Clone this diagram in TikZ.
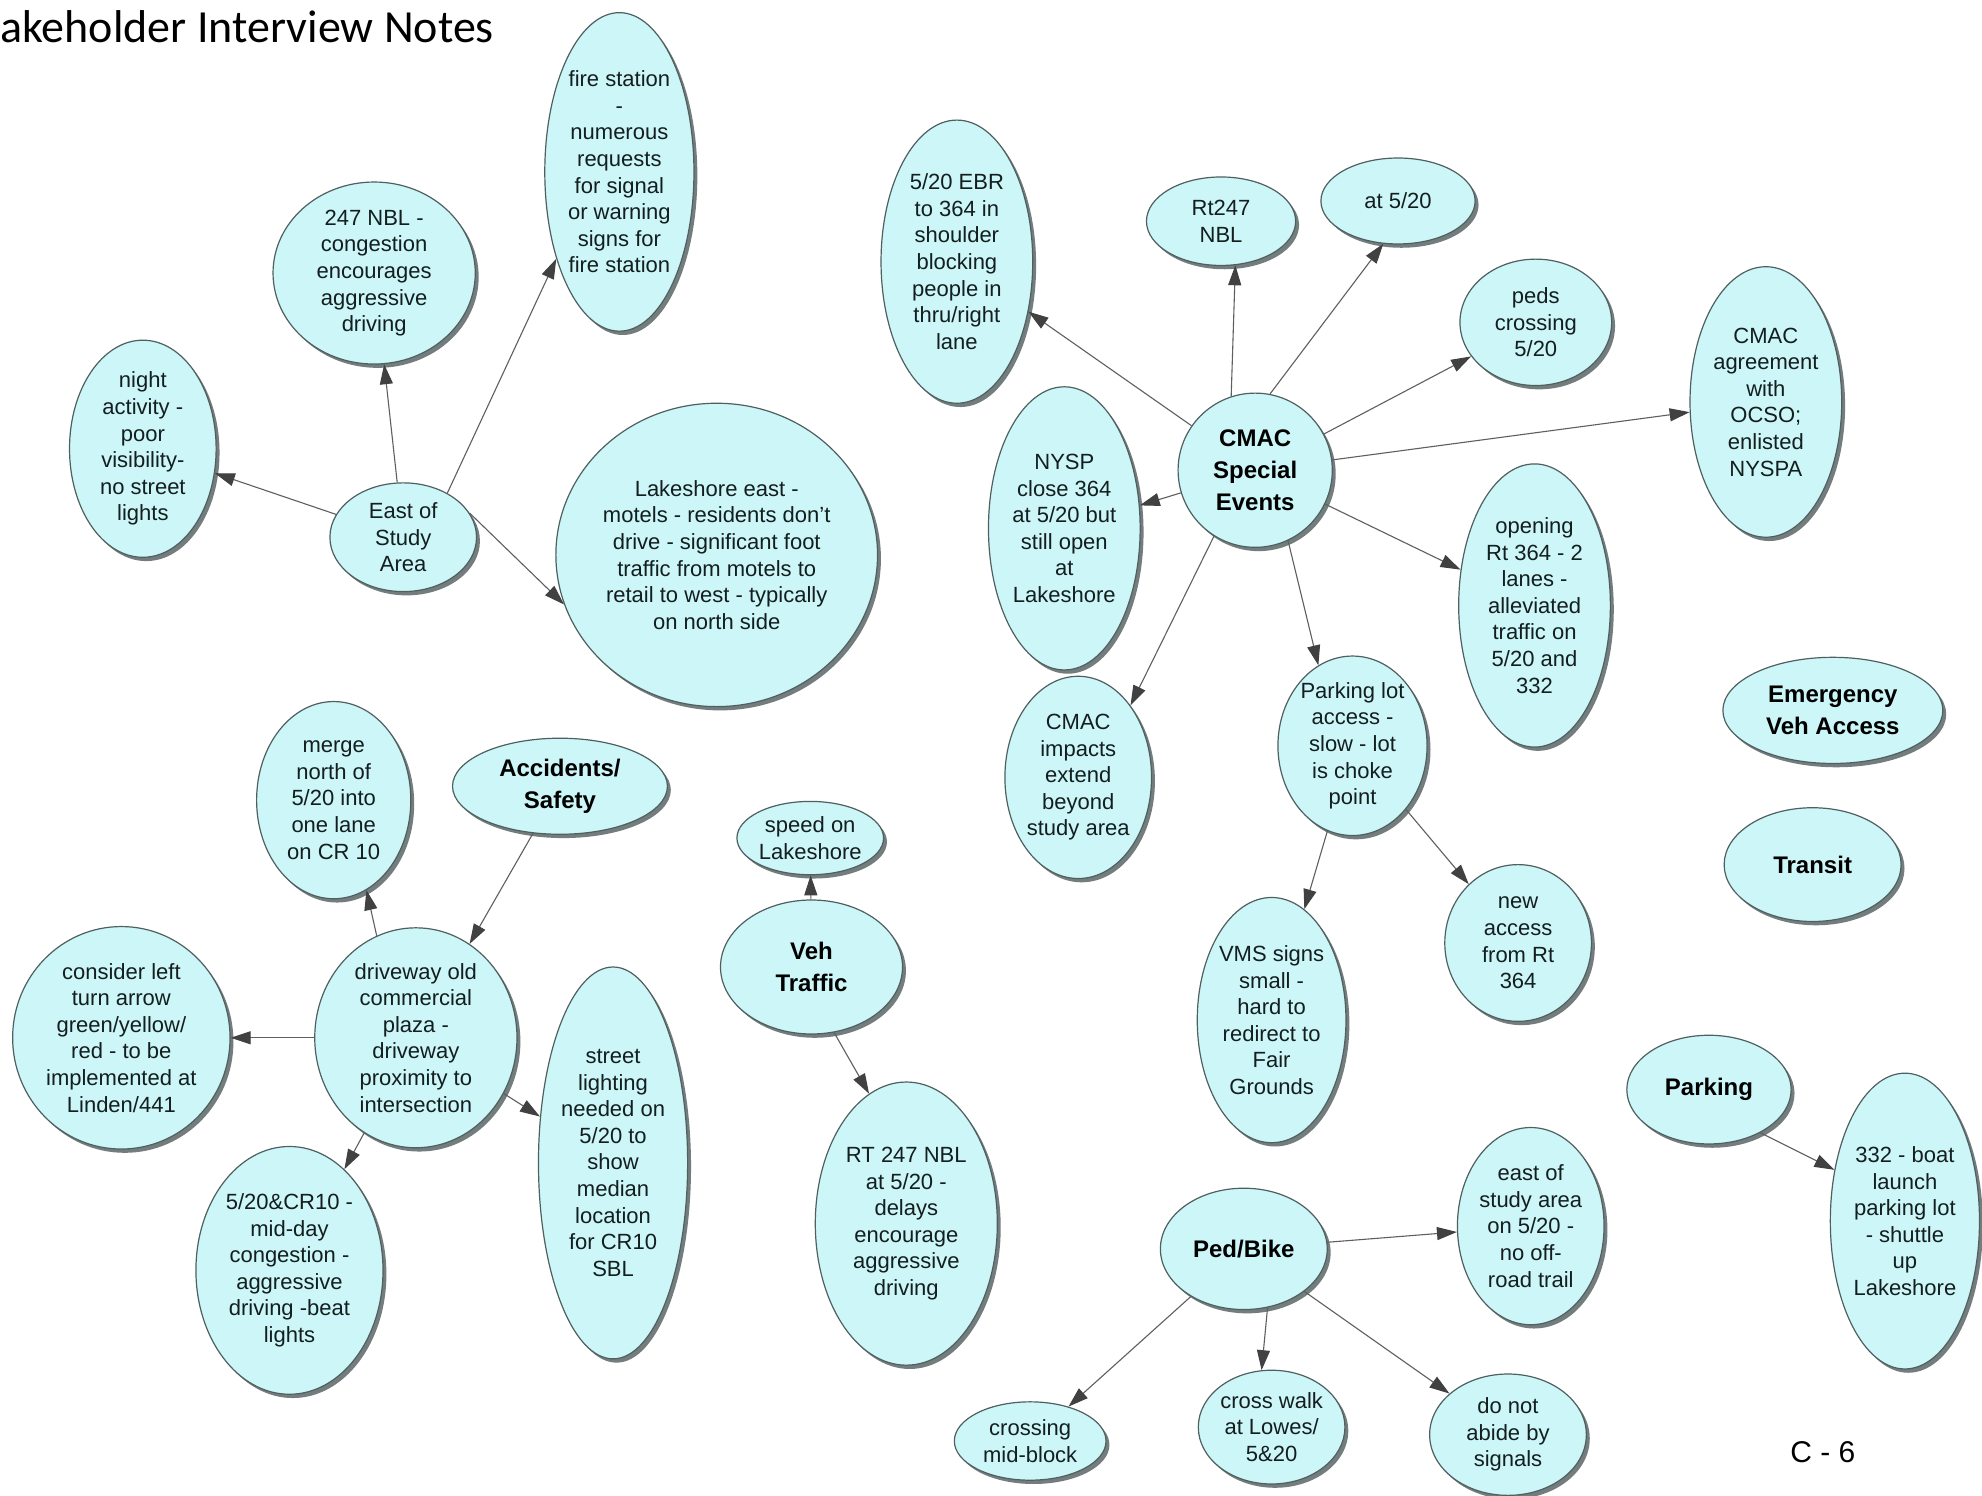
\documentclass[tikz,border=0pt]{standalone}
\usepackage{fontspec}
\setmainfont{Liberation Sans}[Ligatures=ResetAll]
\newfontfamily\titlefont{Carlito}
\usetikzlibrary{shapes.geometric,arrows.meta,shadows}
\definecolor{bubc}{RGB}{204,246,248}
\definecolor{edgec}{RGB}{80,95,95}
\definecolor{shadc}{RGB}{115,125,125}
\definecolor{linec}{RGB}{95,95,95}
\definecolor{tipc}{RGB}{65,65,65}
\definecolor{txtc}{RGB}{20,30,30}
\tikzset{
  bub/.style={ellipse, draw=edgec, line width=0.6pt, fill=bubc, inner sep=0pt, align=center, text=txtc,
    font=\fontsize{11}{13.3}\selectfont,
    drop shadow={shadow xshift=1.7pt, shadow yshift=-1.9pt, fill=shadc, opacity=1}},
  hub/.style={bub, text=black, font=\fontsize{12}{15.8}\selectfont\bfseries},
  sz/.style 2 args={minimum width=#1*1.264pt, minimum height=#2*1.264pt},
  conn/.style={draw=linec, line width=0.55pt, -{Triangle[length=10pt,width=6.5pt,color=tipc]}},
}
\begin{document}
\begin{tikzpicture}[x=0.632pt, y=-0.632pt]
\fill[white] (0,0) rectangle (1568,1183);
\useasboundingbox (0,0) rectangle (1568,1183);

\node[anchor=base west, inner sep=0pt, font=\titlefont\fontsize{23}{27}\selectfont] (title) at (0,34) {akeholder Interview Notes};
\node[anchor=base west, inner sep=0pt, font=\fontsize{15}{18}\selectfont] (pagenum) at (1416,1157) {C - 6};

% East of study area group
\node[bub, sz={59}{126}] (fire) at (490,136) {fire station\\-\\numerous\\requests\\for signal\\or warning\\signs for\\fire station};
\node[bub, sz={80}{72}] (nbl) at (296,216) {247 NBL -\\congestion\\encourages\\aggressive\\driving};
\node[bub, sz={58}{85}] (night) at (113,355) {night\\activity -\\poor\\visibility-\\no street\\lights};
\node[bub, sz={58}{43}] (east) at (319,425) {East of\\Study\\Area};
\node[bub, sz={125}{120}] (lake) at (567,439) {Lakeshore east -\\motels - residents don't\\drive - significant foot\\traffic from motels to\\retail to west - typically\\on north side};

% CMAC group
\node[bub, sz={60}{112}] (ebr) at (757,207) {5/20 EBR\\to 364 in\\shoulder\\blocking\\people in\\thru/right\\lane};
\node[bub, sz={59}{35}] (rt) at (966,175) {Rt247\\NBL};
\node[bub, sz={61}{34}] (at) at (1106,159) {at 5/20};
\node[bub, sz={60}{50}] (peds) at (1215,255) {peds\\crossing\\5/20};
\node[bub, sz={60}{107}] (agree) at (1397,318) {CMAC\\agreement\\with\\OCSO;\\enlisted\\NYSPA};
\node[hub, sz={61}{61}] (cmac) at (993,372) {CMAC\\Special\\Events};
\node[bub, sz={60}{112}] (nysp) at (842,418) {NYSP\\close 364\\at 5/20 but\\still open\\at\\Lakeshore};
\node[bub, sz={60}{112}] (open) at (1214,479) {opening\\Rt 364 - 2\\lanes -\\alleviated\\traffic on\\5/20 and\\332};
\node[bub, sz={58}{80}] (impact) at (853,615) {CMAC\\impacts\\extend\\beyond\\study area};
\node[bub, sz={59}{68}] (plot) at (1070,590) {Parking lot\\access -\\slow - lot\\is choke\\point};
\node[bub, sz={58}{97}] (vms) at (1006,807) {VMS signs\\small -\\hard to\\redirect to\\Fair\\Grounds};
\node[bub, sz={58}{62}] (newacc) at (1201,746) {new\\access\\from Rt\\364};

% Standalone
\node[hub, sz={87}{42}] (emerg) at (1450,562) {Emergency\\Veh Access};
\node[hub, sz={70}{45}] (transit) at (1434,684) {Transit};

% Accidents group
\node[hub, sz={85}{38}] (acc) at (443,622) {Accidents/\\Safety};
\node[bub, sz={61}{78}] (merge) at (264,633) {merge\\north of\\5/20 into\\one lane\\on CR 10};
\node[bub, sz={80}{87}] (drive) at (329,821) {driveway old\\commercial\\plaza -\\driveway\\proximity to\\intersection};
\node[bub, sz={86}{88}] (consider) at (96,821) {consider left\\turn arrow\\green/yellow/\\red - to be\\implemented at\\Linden/441};
\node[bub, sz={59}{155}] (street) at (485,920) {street\\lighting\\needed on\\5/20 to\\show\\median\\location\\for CR10\\SBL};
\node[bub, sz={74}{98}] (cr) at (229,1005) {5/20\&CR10 -\\mid-day\\congestion -\\aggressive\\driving -beat\\lights};

% Veh traffic group
\node[bub, sz={58}{29}] (speed) at (641,663) {speed on\\Lakeshore};
\node[hub, sz={72}{53}] (veh) at (642,765) {Veh\\Traffic};
\node[bub, sz={72}{112}] (rtnbl) at (717,968) {RT 247 NBL\\at 5/20 -\\delays\\encourage\\aggressive\\driving};

% Parking group
\node[hub, sz={65}{43}] (parking) at (1352,862) {Parking};
\node[bub, sz={59}{117}] (boat) at (1507,966) {332 - boat\\launch\\parking lot\\- shuttle\\up\\Lakeshore};

% Ped/Bike group
\node[hub, sz={66}{48}] (ped) at (984,988) {Ped/Bike};
\node[bub, sz={58}{78}] (eastst) at (1211,970) {east of\\study area\\on 5/20 -\\no off-\\road trail};
\node[bub, sz={60}{31}] (mid) at (815,1140) {crossing\\mid-block};
\node[bub, sz={58}{45}] (cross) at (1006,1129) {cross walk\\at Lowes/\\5\&20};
\node[bub, sz={62}{48}] (abide) at (1193,1135) {do not\\abide by\\signals};

% Connectors
\draw[conn] (east) -- (night);
\draw[conn] (east) -- (nbl);
\draw[conn] (east.45) -- (fire.234);
\draw[conn] (east.20) -- (lake.198);

\draw[conn] (cmac) -- (ebr);
\draw[conn] (cmac.108) -- (rt.288);
\draw[conn] (cmac.79) -- (at.251);
\draw[conn] (cmac) -- (peds);
\draw[conn] (cmac) -- (agree);
\draw[conn] (cmac) -- (open);
\draw[conn] (cmac.295) -- (plot.113);
\draw[conn] (cmac.238) -- (impact.54);
\draw[conn] (cmac) -- (nysp);
\draw[conn] (plot) -- (vms);
\draw[conn] (plot) -- (newacc);

\draw[conn] (acc) -- (drive);
\draw[conn] (drive.111) -- (merge.290);
\draw[conn] (drive) -- (consider);
\draw[conn] (drive) -- (cr);
\draw[conn] (drive) -- (street);

\draw[conn] (veh) -- (speed);
\draw[conn] (veh.289) -- (rtnbl.106);

\draw[conn] (parking.320) -- (boat.144);

\draw[conn] (ped) -- (mid);
\draw[conn] (ped.292) -- (cross.100);
\draw[conn] (ped) -- (abide);
\draw[conn] (ped) -- (eastst);
\end{tikzpicture}
\end{document}
